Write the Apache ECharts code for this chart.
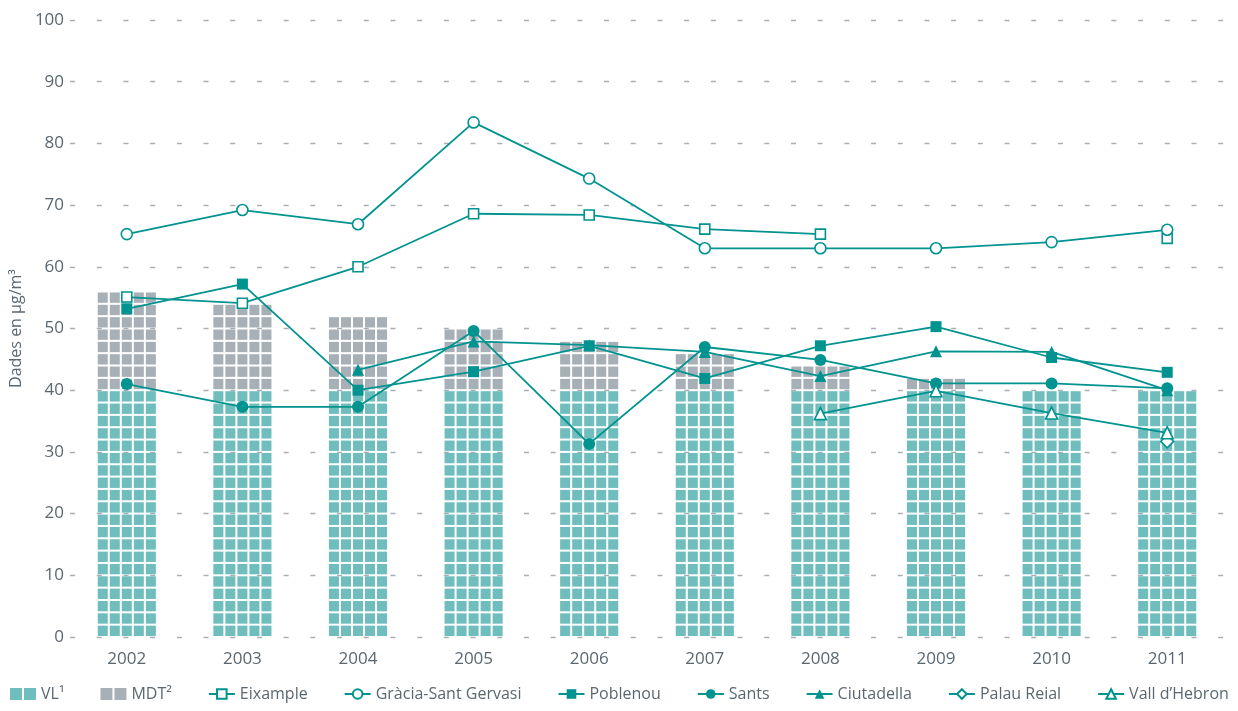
<!DOCTYPE html>
<html><head><meta charset="utf-8">
<script src="https://cdn.jsdelivr.net/npm/echarts@6/dist/echarts.min.js"></script>
<style>html,body{margin:0;padding:0;background:#fff}#c{width:1238px;height:711px}</style>
</head><body><div id="c"></div>
<script>
// ---- data ----
const years = ['2002','2003','2004','2005','2006','2007','2008','2009','2010','2011'];
const vl  = [40,40,40,40,40,40,40,40,40,40];
const mdt = [16,14,12,10,8,6,4,2,0,0];
const eixample   = [55.1,54.1,60.0,68.6,68.4,66.1,65.3,null,null,64.6];
const gracia     = [65.3,69.2,66.9,83.4,74.3,63.0,63.0,63.0,64.0,66.0];
const poblenou   = [53.2,57.2,40.0,43.0,47.2,41.9,47.2,50.3,45.3,42.9];
const sants      = [41.0,37.3,37.3,49.6,31.3,47.0,44.9,41.1,41.1,40.3];
const ciutadella = [null,null,43.3,47.9,47.3,46.2,42.3,46.3,46.2,40.0];
const palauReial = [null,null,null,null,null,null,null,null,null,31.7];
const vallHebron = [null,null,null,null,null,null,36.2,39.9,36.3,33.1];
const yMin = 0, yMax = 100, yStep = 10;

// ---- styles ----
const TEAL = '#00938f', BAR_TEAL = '#6fbdbd', BAR_GRAY = '#a7b0b7', TXT = '#5b6770';
const FONT = 'Open Sans';

function cells(color){
  return function(params, api){
    const i = api.value(0), lo = api.value(1), hi = api.value(2);
    const w = api.size([1,0])[0]*0.52;
    const cx = api.coord([i, 0])[0];
    const x0 = cx - w/2, cw = w/5;
    const children = [];
    for (let v = lo; v < hi - 1e-6; v += 2) {
      const yb = api.coord([i, v])[1], yt = api.coord([i, Math.min(v+2, hi)])[1];
      for (let c = 0; c < 5; c++) {
        children.push({type:'rect', shape:{x:x0+c*cw+1, y:yt+1, width:cw-2, height:yb-yt-2}, style:{fill:color}});
      }
    }
    return {type:'group', children};
  };
}

function lineSeries(name, data, symbol, open, size){
  return {
    name, type:'line', data, xAxisIndex:1, yAxisIndex:1,
    symbol, symbolSize:size, showSymbol:true, connectNulls:false, z:5,
    lineStyle:{color:TEAL, width:1.8},
    itemStyle:{color: open ? '#ffffff' : TEAL, borderColor:TEAL, borderWidth: open ? 1.6 : 0},
    emphasis:{disabled:true}
  };
}

const chart = echarts.init(document.getElementById('c'));
chart.setOption({
  animation:false,
  textStyle:{fontFamily:FONT, color:TXT},
  grid:[
    {left:58, right:0, top:20, bottom:74},
    {left:69, right:13, top:20, bottom:74}
  ],
  xAxis:[
    {gridIndex:0, type:'value', min:0, max:1, show:false},
    {gridIndex:1, type:'category', data:years, boundaryGap:true,
     axisLine:{show:false}, axisTick:{show:false},
     axisLabel:{fontSize:17, color:TXT, margin:14, fontFamily:FONT}}
  ],
  yAxis:[
    {gridIndex:0, type:'value', min:yMin, max:yMax, interval:yStep,
     name:'Dades en µg/m³', nameLocation:'middle', nameGap:40,
     nameTextStyle:{fontSize:16, color:TXT, fontFamily:FONT},
     axisLine:{show:false}, axisTick:{show:false},
     axisLabel:{fontSize:17, color:TXT, margin:6, fontFamily:FONT},
     splitLine:{show:true, lineStyle:{color:'#a7afb5', width:1.4, type:[5,21.7]}}},
    {gridIndex:1, type:'value', min:yMin, max:yMax, interval:yStep, show:false, splitLine:{show:false}}
  ],
  legend:{
    left:10, top:686, padding:0, itemWidth:26, itemHeight:12, itemGap:36,
    textStyle:{fontSize:16, color:TXT, fontFamily:FONT},
    data:[
      {name:'VL¹', icon:'path://M0 0h12v12H0z M14 0h12v12H14z'},
      {name:'MDT²', icon:'path://M0 0h12v12H0z M14 0h12v12H14z'},
      'Eixample','Gràcia-Sant Gervasi','Poblenou','Sants','Ciutadella','Palau Reial','Vall d’Hebron'
    ]
  },
  series:[
    {name:'VL¹', type:'custom', xAxisIndex:1, yAxisIndex:1, color:BAR_TEAL, itemStyle:{color:BAR_TEAL},
     renderItem:cells(BAR_TEAL), encode:{x:0, y:[1,2]},
     data: years.map((y,i)=>[i, 0, vl[i]])},
    {name:'MDT²', type:'custom', xAxisIndex:1, yAxisIndex:1, color:BAR_GRAY, itemStyle:{color:BAR_GRAY},
     renderItem:cells(BAR_GRAY), encode:{x:0, y:[1,2]},
     data: years.map((y,i)=>[i, vl[i], vl[i]+mdt[i]])},
    lineSeries('Eixample', eixample, 'rect', true, 10),
    lineSeries('Gràcia-Sant Gervasi', gracia, 'circle', true, 11),
    lineSeries('Poblenou', poblenou, 'rect', false, 11),
    lineSeries('Sants', sants, 'circle', false, 12),
    lineSeries('Ciutadella', ciutadella, 'triangle', false, 12),
    lineSeries('Palau Reial', palauReial, 'diamond', true, 13),
    lineSeries('Vall d’Hebron', vallHebron, 'triangle', true, 12)
  ]
});
</script></body></html>
